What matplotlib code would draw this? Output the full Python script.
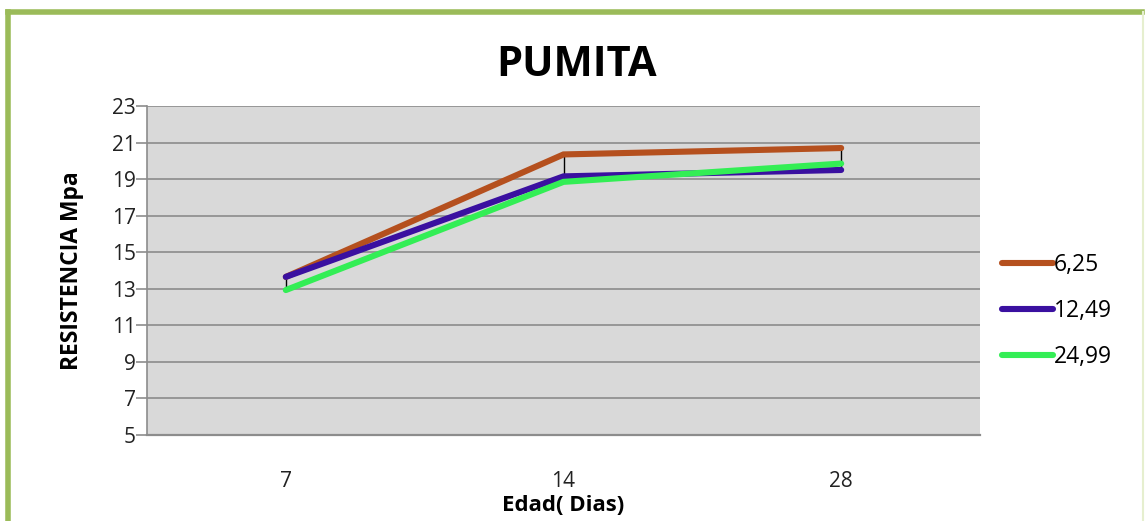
import matplotlib
matplotlib.use("Agg")
import matplotlib.pyplot as plt
from matplotlib.lines import Line2D

plt.rcParams['font.family'] = ['Open Sans', 'DejaVu Sans']

# Compressive strength (MPa) at each curing age for three pumice contents
ages = ["7", "14", "28"]
serie_625 = [13.65, 20.35, 20.70]
serie_1249 = [13.65, 19.15, 19.50]
serie_2499 = [12.93, 18.85, 19.85]
series_labels = ["6,25", "12,49", "24,99"]
series_colors = ["#B5501E", "#3A10A0", "#33EE55"]
y_ticks = [5, 7, 9, 11, 13, 15, 17, 19, 21, 23]

W, H = 1145, 521
fig = plt.figure(figsize=(W / 100, H / 100), dpi=100)
fig.patch.set_facecolor("white")

ax = fig.add_axes([147 / W, 1 - 435 / H, (980 - 147) / W, (435 - 106) / H])
ax.set_facecolor("#D9D9D9")

x = list(range(len(ages)))
all_series = [serie_625, serie_1249, serie_2499]

# High-low lines joining the extreme values at each age
for i in x:
    vals = [s[i] for s in all_series]
    ax.plot([i, i], [min(vals), max(vals)], color="black", lw=1.0, zorder=2)

for vals, lab, col in zip(all_series, series_labels, series_colors):
    ax.plot(x, vals, color=col, lw=4.4, label=lab, zorder=3,
            solid_capstyle="round", solid_joinstyle="miter")

ax.set_xlim(-0.5, len(ages) - 0.5)
ax.set_ylim(5, 23)
ax.set_yticks(y_ticks)
ax.set_xticks(x)
ax.set_xticklabels(ages)
ax.yaxis.grid(True, color="#8C8C8C", lw=1.2)
ax.set_axisbelow(True)

for side in ["top", "right"]:
    ax.spines[side].set_visible(False)
ax.spines["left"].set_color("#8C8C8C")
ax.spines["bottom"].set_color("#8C8C8C")
ax.spines["left"].set_linewidth(1.2)
ax.spines["bottom"].set_linewidth(1.6)
ax.tick_params(axis="y", length=8, width=1.2, color="#8C8C8C", labelsize=15,
               pad=0, labelcolor="#222222")
ax.tick_params(axis="x", length=0, labelsize=15, pad=26, labelcolor="#222222")

ax.set_ylabel("RESISTENCIA Mpa", fontsize=16.5, fontweight="bold", labelpad=20)
ax.set_xlabel("Edad( Dias)", fontsize=16, fontweight="bold", labelpad=2)

fig.text(577 / W, 1 - 65 / H, "PUMITA", fontsize=30, fontweight="bold",
         ha="center", va="center")

# Legend on the right
handles = [Line2D([0], [0], color=c, lw=4.4, solid_capstyle="round") for c in series_colors]
fig.legend(handles, series_labels, loc="center left",
           bbox_to_anchor=(993 / W, 1 - 311 / H), frameon=False,
           fontsize=16.5, handlelength=2.2, handletextpad=0.05,
           labelspacing=0.95, borderaxespad=0)

# Green frame around the chart
fig.add_artist(Line2D([8 / W, 8 / W], [0, 1 - 12 / H], color="#9BBB59", lw=4,
                      transform=fig.transFigure))
fig.add_artist(Line2D([8 / W, 1142 / W], [1 - 12 / H, 1 - 12 / H], color="#9BBB59", lw=4,
                      transform=fig.transFigure))
fig.add_artist(Line2D([1143 / W, 1143 / W], [0, 1 - 12 / H], color="#E6EFCF", lw=1.5,
                      transform=fig.transFigure))

fig.savefig("out.png", dpi=100)
